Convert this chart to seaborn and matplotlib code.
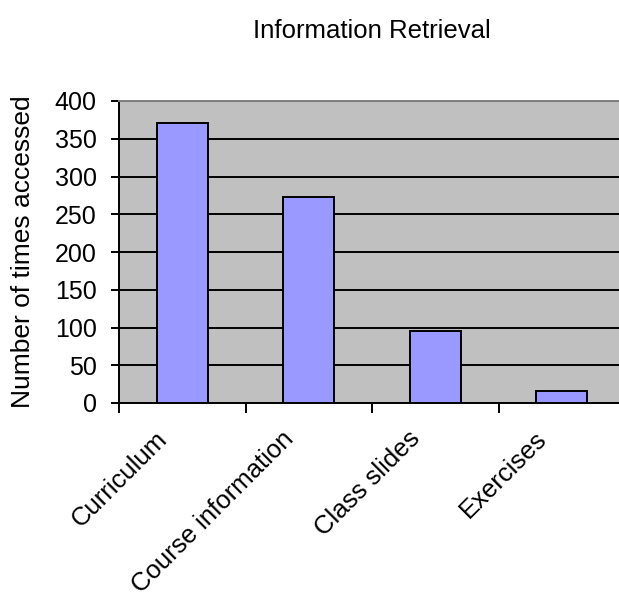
import matplotlib
matplotlib.use("Agg")
import matplotlib.pyplot as plt
import matplotlib.transforms as mtransforms
import numpy as np
import pandas as pd
import seaborn as sns

# Access counts per section of the course site
categories = ["Curriculum", "Course information", "Class slides", "Exercises"]
times_accessed = [371, 273, 96, 16]
y_ticks = [0, 50, 100, 150, 200, 250, 300, 350, 400]

title = "Information Retrieval"
y_label = "Number of times accessed"

sns.set_theme(style="white")
plt.rcParams["font.family"] = ["Liberation Sans", "DejaVu Sans"]

df = pd.DataFrame({"section": categories, "count": times_accessed})

fig = plt.figure(figsize=(6.19, 5.96), dpi=100)
W, H = 619, 596
# plot area in pixels: left 119, top 101, bottom 403, category width ~126.5
ax = fig.add_axes([119 / W, (H - 403) / H, 506 / W, 302 / H])
ax.set_facecolor("#C0C0C0")

sns.barplot(data=df, x="section", y="count", color="#9999FF", width=0.4,
            edgecolor="black", linewidth=1.4, saturation=1, ax=ax, zorder=3)

ax.set_ylim(0, 400)
ax.set_xlim(-0.5, len(categories) - 0.5)
ax.set_yticks(y_ticks)
ax.set_yticklabels([str(v) for v in y_ticks])
ax.yaxis.grid(True, color="black", linewidth=1.4, zorder=1)
ax.set_axisbelow(True)

# tick marks on category boundaries, labels on category centres
ax.set_xticks(np.arange(-0.5, len(categories)), labels=[""] * (len(categories) + 1))
ax.set_xticks(np.arange(len(categories)), labels=categories, minor=True)
ax.tick_params(axis="x", which="major", direction="out", length=7, width=1.4,
               color="black", bottom=True)
ax.tick_params(axis="x", which="minor", length=0, pad=23, labelsize=18.5)
ax.tick_params(axis="y", which="major", direction="out", length=6, width=1.4,
               color="black", left=True, pad=10, labelsize=18, labelcolor="black")

offset = mtransforms.ScaledTranslation(-19 / 100, 0, fig.dpi_scale_trans)
for lab in ax.get_xticklabels(minor=True):
    lab.set_rotation(45)
    lab.set_ha("right")
    lab.set_va("center")
    lab.set_rotation_mode("anchor")
    lab.set_color("black")
    lab.set_transform(lab.get_transform() + offset)

for side in ("left", "bottom"):
    ax.spines[side].set_visible(True)
    ax.spines[side].set_color("black")
    ax.spines[side].set_linewidth(1.4)
ax.spines["top"].set_color("#808080")
ax.spines["top"].set_linewidth(1.4)
ax.spines["right"].set_visible(False)

ax.set_xlabel("")
ax.set_ylabel(y_label, fontsize=19, color="black", va="center")
ax.yaxis.set_label_coords(-(119 - 23) / 506, 0.5)
ax.set_title(title, fontsize=18.5, color="black", pad=45)

fig.savefig("out.png", dpi=100, facecolor="white")
